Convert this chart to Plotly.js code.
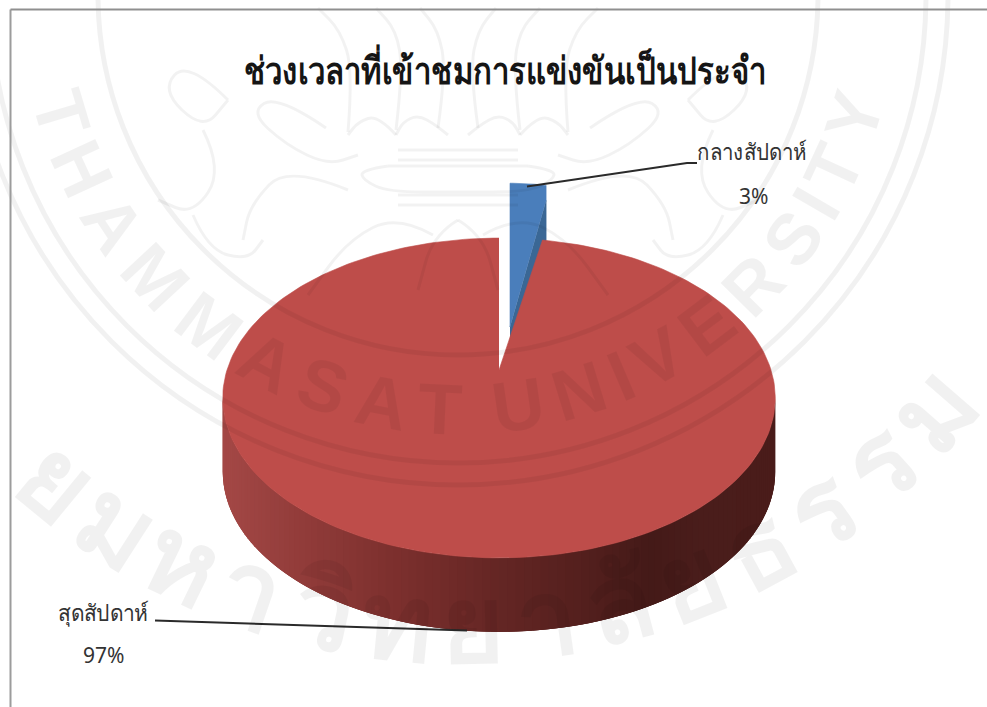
<!DOCTYPE html>
<html>
<head>
<meta charset="utf-8">
<script src="https://cdn.plot.ly/plotly-3.0.1.min.js"></script>
<style>html,body{margin:0;padding:0;background:#fff}#chart{width:987px;height:707px}</style>
</head>
<body>
<div id="chart"></div>
<script>
// Survey answers: share of regular match attendance by time of week
const chartTitle = 'ช่วงเวลาที่เข้าชมการแข่งขันเป็นประจำ';
const categories = ['กลางสัปดาห์', 'สุดสัปดาห์'];
const shares = [3, 97];

// Perspective model of the tilted disc
const cx = 499, cy = 370, ax = 272, ay = 155, tilt = 0.175, depth = 74;
const face = t => {
  const s = Math.sin(t), c = Math.cos(t), w = 1 + tilt * c;
  return [cx + ax * s / w, cy - ay * c / w];
};
const total = shares.reduce((a, b) => a + b, 0);
const cut = 2 * Math.PI * shares[0] / total;

const traces = [];
const poly = (pts, color, edge) => traces.push({
  type: 'scatter', mode: 'lines', x: pts.map(p => p[0]), y: pts.map(p => p[1]),
  fill: 'toself', fillcolor: color, line: {width: edge === undefined ? 0.6 : edge, color: color},
  hoverinfo: 'skip', showlegend: false
});

// Pulled-out weekday slice, sitting behind the main disc
const pullX = 11, pullY = -43, sx = 0.83, sy = 1.09, rim = 15;
const apex = [cx + pullX, cy + pullY];
const slicePt = t => {
  const p = face(t);
  return [apex[0] + (p[0] - cx) * sx, apex[1] + (p[1] - cy) * sy];
};
const arc = [];
for (let i = 0; i <= 12; i++) arc.push(slicePt(cut * i / 12));
const arcEnd = arc[arc.length - 1];
poly([apex, [arcEnd[0], arcEnd[1] + rim], [arcEnd[0], arcEnd[1] + depth], [apex[0], apex[1] + depth]], '#3a6795');
poly([apex].concat(arc, [[arcEnd[0], arcEnd[1] + rim]]), '#4a7ebb');

// Wall of the weekend slice: colour darkens from left to right
const rampX = [222, 300, 400, 500, 600, 650, 700, 775];
const rampC = [[164, 72, 70], [146, 60, 58], [123, 47, 45], [100, 38, 36], [80, 30, 28], [68, 26, 24], [74, 29, 27], [74, 28, 26]];
const wallColor = x => {
  let i = 0;
  while (i < rampX.length - 2 && x > rampX[i + 1]) i++;
  const f = Math.min(1, Math.max(0, (x - rampX[i]) / (rampX[i + 1] - rampX[i])));
  const c = rampC[i].map((v, k) => Math.round(v + (rampC[i + 1][k] - v) * f));
  return `rgb(${c[0]},${c[1]},${c[2]})`;
};
// Wall strips overlap the next one so no seams show between them
const wallFrom = Math.PI - Math.acos(tilt), wallTo = Math.PI + Math.acos(tilt);
const wallSteps = 110;
for (let i = 0; i < wallSteps; i++) {
  const a = face(wallFrom + (wallTo - wallFrom) * i / wallSteps);
  const m = face(wallFrom + (wallTo - wallFrom) * (i + 1) / wallSteps);
  const b = face(wallFrom + (wallTo - wallFrom) * Math.min(wallSteps, i + 3) / wallSteps);
  poly([a, m, b, [b[0], b[1] + depth], [m[0], m[1] + depth], [a[0], a[1] + depth]], wallColor((a[0] + m[0]) / 2), 0);
}

// Top face of the weekend slice
const discFace = [[cx, cy]];
for (let i = 0; i <= 240; i++) discFace.push(face(cut + (2 * Math.PI - cut) * i / 240));
poly(discFace, '#be4d4a');

// Leader lines from slices to their labels
const leader = (xs, ys) => traces.push({
  type: 'scatter', mode: 'lines', x: xs, y: ys,
  line: {width: 2, color: '#2a2a2a'}, hoverinfo: 'skip', showlegend: false
});
leader([527, 687, 697], [186.5, 163, 163]);
leader([155, 467], [620.5, 630.5]);

const thai = 'Noto Sans, Tahoma, sans-serif';
const annotations = [];
const label = (text, x, y, size) => annotations.push({
  x, y, xref: 'x', yref: 'y', text, showarrow: false,
  font: {family: thai, size, color: '#333333'}
});
label(categories[0], 752, 151, 23);
label(shares[0] + '%', 753, 196, 21);
label(categories[1], 103, 612, 23);
label(shares[1] + '%', 103, 655, 21);

// University seal printed lightly over the page
const ink = 'rgba(0,0,0,0.055)';
const sealX = 458, sealY = -5;
const glyphMark = (g, deg, radius, size) => {
  const r = deg * Math.PI / 180;
  annotations.push({
    x: sealX + radius * Math.sin(r), y: sealY + radius * Math.cos(r),
    xref: 'x', yref: 'y', text: g, textangle: -deg, showarrow: false,
    font: {family: 'Liberation Sans, sans-serif', size, color: ink, weight: 700}
  });
};
// Latin ring: glyphs are spaced by their approximate bold widths
const sealName = Array.from('THAMMASAT UNIVERSITY');
const sealWidths = {T: .61, H: .72, A: .72, M: .83, S: .67, U: .72, N: .72, I: .28, V: .67, E: .67, R: .72, Y: .67, ' ': .22};
const sealTotal = sealName.reduce((a, g) => a + sealWidths[g], 0);
let sealRun = 0;
sealName.forEach(g => {
  const mid = sealRun + sealWidths[g] / 2;
  sealRun += sealWidths[g];
  if (g !== ' ') glyphMark(g, -77 + 154 * mid / sealTotal, 414, 72);
});
// Thai ring along the outer edge
['ย', 'ม', 'ห', 'า', 'วิ', 'ท', 'ย', 'า', 'ลั', 'ย', 'ธ', 'ร', 'ร', 'ม'].forEach((g, i) => {
  glyphMark(g, -39.5 + 6.8 * i, 630, 108);
});

const circle = r => ({
  type: 'circle', xref: 'x', yref: 'y', layer: 'above',
  x0: sealX - r, x1: sealX + r, y0: sealY - r, y1: sealY + r,
  line: {color: ink, width: 5}
});
const crest = d => ({
  type: 'path', xref: 'x', yref: 'y', layer: 'above', path: d,
  line: {color: 'rgba(0,0,0,0.05)', width: 3}
});
// Crest outlines, drawn as smooth curves and mirrored about the seal's axis
const smooth = pts => {
  let d = `M${pts[0][0]},${pts[0][1]}`;
  for (let i = 1; i < pts.length - 1; i++) {
    const mx = (pts[i][0] + pts[i + 1][0]) / 2, my = (pts[i][1] + pts[i + 1][1]) / 2;
    d += ` Q${pts[i][0]},${pts[i][1]} ${mx},${my}`;
  }
  const last = pts[pts.length - 1];
  return d + ` L${last[0]},${last[1]}`;
};
const mirrored = pts => [
  crest(smooth(pts.map(p => [sealX - p[0], p[1]]))),
  crest(smooth(pts.map(p => [sealX + p[0], p[1]])))
];
// Horizontal bands on the axis need only one stroke
const crestBands = [150, 160, 195, 205].map(y => crest(`M${sealX - 60},${y} L${sealX + 60},${y}`));
const crestLines = [
  [[70, 166], [97, 170], [95, 180], [70, 192], [0, 192]],
  [[70, 166], [0, 166]],
  [[10, 135], [22, 125], [40, 115], [55, 122], [62, 135]],
  [[62, 135], [80, 115], [100, 122], [110, 135]],
  [[20, 128], [12, 70], [20, 30], [38, 8]],
  [[62, 130], [55, 70], [62, 30], [82, 8]],
  [[110, 132], [105, 70], [118, 30], [140, 8]],
  [[132, 128], [180, 95], [208, 112], [172, 145], [130, 165], [100, 155]],
  [[110, 190], [170, 165], [208, 205], [215, 240]],
  [[25, 235], [60, 215], [110, 240], [150, 295]],
  [[0, 220], [25, 235], [40, 290]],
  [[230, 100], [270, 60], [297, 90], [255, 130], [230, 100]],
  [[255, 130], [235, 170], [265, 215], [300, 200]],
  [[265, 215], [250, 250], [210, 260], [195, 240]]
].flatMap(mirrored);

Plotly.newPlot('chart', traces, {
  width: 987, height: 707,
  margin: {l: 0, r: 0, t: 0, b: 0},
  paper_bgcolor: '#ffffff', plot_bgcolor: 'rgba(0,0,0,0)',
  showlegend: false,
  title: {
    text: chartTitle, x: 0.5116, xanchor: 'center', y: 0.9, yanchor: 'middle',
    font: {family: thai, size: 38, color: '#151515', weight: 600}
  },
  xaxis: {range: [0, 987], visible: false, fixedrange: true},
  yaxis: {range: [707, 0], visible: false, fixedrange: true},
  annotations,
  shapes: [
    circle(360), circle(468), circle(490),
    ...crestBands,
    ...crestLines,
    {type: 'line', xref: 'x', yref: 'y', layer: 'above', x0: 10.5, x1: 10.5, y0: 9.5, y1: 707, line: {color: '#9c9c9c', width: 2}},
    {type: 'line', xref: 'x', yref: 'y', layer: 'above', x0: 10.5, x1: 987, y0: 9.5, y1: 9.5, line: {color: '#8f8f8f', width: 2}}
  ]
}, {displayModeBar: false, staticPlot: true}).then(() => {
  // The chart's typeface sets Thai narrowly: condense the text to its measured width
  const condense = (node, width) => {
    const b = node.getBBox(), c = b.x + b.width / 2;
    node.setAttribute('transform', `translate(${c},0) scale(${width / b.width},1) translate(${-c},0)`);
  };
  condense(document.querySelector('.gtitle'), 520);
  const notes = document.querySelectorAll('.annotation');
  condense(notes[0], 113);
  condense(notes[2], 95);
});
</script>
</body>
</html>
